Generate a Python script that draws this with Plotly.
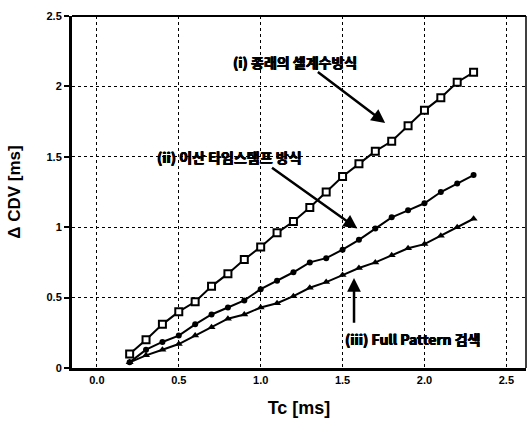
import plotly.graph_objects as go

tc = [0.2, 0.3, 0.4, 0.5, 0.6, 0.7, 0.8, 0.9, 1.0, 1.1, 1.2, 1.3,
      1.4, 1.5, 1.6, 1.7, 1.8, 1.9, 2.0, 2.1, 2.2, 2.3]
cdv_i = [0.10, 0.20, 0.31, 0.40, 0.47, 0.58, 0.67, 0.77, 0.86, 0.96, 1.04, 1.14,
         1.25, 1.36, 1.45, 1.54, 1.61, 1.72, 1.83, 1.92, 2.03, 2.10]
cdv_ii = [0.04, 0.13, 0.185, 0.23, 0.31, 0.38, 0.43, 0.48, 0.56, 0.62, 0.68, 0.75,
          0.78, 0.84, 0.91, 0.99, 1.07, 1.12, 1.17, 1.25, 1.31, 1.37]
cdv_iii = [0.04, 0.09, 0.13, 0.17, 0.23, 0.29, 0.35, 0.38, 0.43, 0.46, 0.51, 0.57,
           0.61, 0.66, 0.71, 0.75, 0.80, 0.85, 0.88, 0.94, 1.00, 1.06]
x_ticks = [0.0, 0.5, 1.0, 1.5, 2.0, 2.5]
x_tick_text = ["0.0", "0.5", "1.0", "1.5", "2.0", "2.5"]
y_ticks = [0, 0.5, 1, 1.5, 2, 2.5]
y_tick_text = ["0", "0.5", "1", "1.5", "2", "2.5"]
labels = ["(i) 종래의 셀계수방식", "(ii) 이산 타임스탬프 방식", "(iii) Full Pattern 검색"]

fig = go.Figure()
fig.add_trace(go.Scatter(x=tc, y=cdv_i, mode="lines+markers",
                         line=dict(color="black", width=2),
                         marker=dict(symbol="square", size=7, color="white",
                                     line=dict(color="black", width=2)),
                         showlegend=False))
fig.add_trace(go.Scatter(x=tc, y=cdv_ii, mode="lines+markers",
                         line=dict(color="black", width=2),
                         marker=dict(symbol="circle", size=6, color="black"),
                         showlegend=False))
fig.add_trace(go.Scatter(x=tc, y=cdv_iii, mode="lines+markers",
                         line=dict(color="black", width=2),
                         marker=dict(symbol="triangle-up", size=7, color="black"),
                         showlegend=False))

kfont = dict(family="Noto Sans CJK KR", size=14, color="black", weight=900,
             shadow="0.5px 0 0 black, -0.5px 0 0 black, 0 0.4px 0 black")

# (i) label and arrow
fig.add_annotation(x=1.21, y=2.17, xref="x", yref="y", text="<b>" + labels[0] + "</b>",
                   showarrow=False, font=kfont)
fig.add_annotation(x=1.76, y=1.74, ax=1.34, ay=2.11, xref="x", yref="y",
                   axref="x", ayref="y", text="", showarrow=True,
                   arrowhead=2, arrowsize=1.1, arrowwidth=2.5, arrowcolor="black")
# (ii) label and arrow
fig.add_annotation(x=0.81, y=1.50, xref="x", yref="y", text="<b>" + labels[1] + "</b>",
                   showarrow=False, font=kfont)
fig.add_annotation(x=1.59, y=0.99, ax=1.06, ay=1.43, xref="x", yref="y",
                   axref="x", ayref="y", text="", showarrow=True,
                   arrowhead=2, arrowsize=1.1, arrowwidth=2.5, arrowcolor="black")
# (iii) label and arrow
fig.add_annotation(x=1.93, y=0.205, xref="x", yref="y", text="<b>" + labels[2] + "</b>",
                   showarrow=False, font=kfont)
fig.add_annotation(x=1.57, y=0.64, ax=1.57, ay=0.31, xref="x", yref="y",
                   axref="x", ayref="y", text="", showarrow=True,
                   arrowhead=2, arrowsize=1.1, arrowwidth=2.5, arrowcolor="black")

tickfont = dict(family="Liberation Sans", size=11, color="black", weight="bold")
fig.update_xaxes(range=[-0.152, 2.62], tickvals=x_ticks, ticktext=x_tick_text,
                 showgrid=True, gridcolor="black", griddash="dot", gridwidth=1,
                 showline=True, linecolor="black", linewidth=3,
                 ticks="", tickfont=tickfont, zeroline=False, automargin=False,
                 title=dict(text="<b>Tc [ms]</b>", standoff=17,
                            font=dict(family="Liberation Sans", size=18, color="black")))
fig.update_yaxes(range=[0, 2.5], tickvals=y_ticks, ticktext=y_tick_text,
                 showgrid=True, gridcolor="black", griddash="dot", gridwidth=1,
                 showline=True, linecolor="black", linewidth=3,
                 ticks="outside", ticklen=5, tickwidth=2, tickcolor="black",
                 tickfont=tickfont, zeroline=False, automargin=False,
                 title=dict(text="<b>Δ CDV [ms]</b>", standoff=22,
                            font=dict(family="Liberation Sans", size=17, color="black")))

fig.add_shape(type="line", xref="paper", yref="paper", x0=0, x1=1, y0=1, y1=1,
              line=dict(color="black", width=2))
fig.add_shape(type="line", xref="paper", yref="paper", x0=1, x1=1, y0=0, y1=1,
              line=dict(color="black", width=1.5))

fig.update_layout(width=528, height=429, plot_bgcolor="white", paper_bgcolor="white",
                  margin=dict(l=72, r=2, t=16, b=61))
fig.write_html("out.html", config={"displayModeBar": False},
               post_script="document.body.style.margin='0';")
